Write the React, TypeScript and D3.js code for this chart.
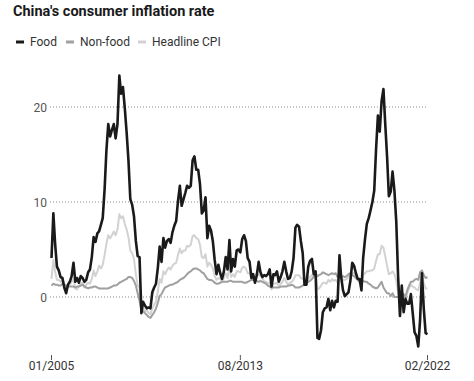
import React from "react";
import * as d3 from "d3";

const startMonth = "2005-01";
const tickLabels = ["01/2005", "08/2013", "02/2022"];
const yTicks = [0, 10, 20];
const seriesNames = ["Food", "Non-food", "Headline CPI"];

const food = [
  4.1, 8.8, 5.7, 3.2, 2.8, 2.1, 2.0, 1.0, 0.4, 1.3, 1.6, 2.2,
  3.6, 1.6, 2.0, 1.5, 2.2, 2.0, 1.6, 1.8, 2.6, 2.9, 4.2, 6.3,
  5.8, 6.7, 6.9, 7.6, 8.3, 11.3, 15.4, 18.2, 16.9, 17.6, 18.2, 16.7,
  18.2, 23.3, 21.4, 22.1, 19.9, 17.3, 14.4, 10.3, 9.7, 8.5, 5.9, 4.3,
  4.2, -1.7, -0.5, -0.9, -1.2, -1.1, -1.2, 0.5, 1.0, 1.4, 3.1, 5.3,
  3.7, 6.2, 5.2, 5.9, 6.1, 5.7, 6.8, 7.5, 8.0, 10.1, 11.7, 9.6,
  10.3, 11.0, 11.7, 11.5, 11.7, 14.4, 14.8, 13.4, 13.4, 11.9, 8.8, 9.1,
  10.5, 6.2, 7.5, 7.0, 5.9, 3.9, 2.4, 3.4, 2.5, 1.9, 2.7, 4.2,
  2.9, 6.0, 2.7, 4.0, 3.2, 4.9, 5.0, 4.7, 6.1, 6.5, 5.9, 4.1,
  3.7, 2.0, 2.4, 1.5, 2.3, 3.7, 2.6, 2.1, 2.3, 2.2, 2.4, 2.9,
  1.1, 2.4, 2.3, 2.7, 1.6, 2.1, 2.7, 3.7, 2.7, 1.9, 2.0, 2.7,
  4.1, 7.3, 7.6, 7.4, 5.9, 4.6, 1.3, 1.3, 3.2, 3.8, 4.0, 2.4,
  2.7, -4.3, -4.4, -3.5, -1.6, -1.2, -1.1, -0.2, -1.4, -0.4, -1.1, -0.4,
  -0.5, 4.4, 2.1, 0.7, 0.1, 0.3, 0.5, 1.7, 3.6, 3.3, 2.5, 1.9,
  1.9, 0.7, 4.1, 6.1, 7.7, 8.3, 9.1, 10.0, 11.2, 15.5, 19.1, 17.4,
  20.6, 21.9, 18.3, 14.8, 10.6, 11.1, 13.2, 11.2, 7.9, 2.2, -2.0, 1.2,
  -1.6, -0.2, -0.7, -0.7, 0.3, -1.7, -3.7, -4.1, -5.2, -2.4, 2.5, -1.2,
  -3.8, -3.9,
];

const nonFood = [
  1.2, 1.4, 1.3, 1.3, 1.2, 1.2, 1.4, 1.3, 1.2, 1.1, 1.1, 1.1,
  1.1, 1.0, 1.1, 1.1, 1.2, 1.3, 1.1, 1.0, 0.9, 1.0, 1.0, 1.1,
  1.1, 1.0, 0.9, 0.9, 0.9, 0.9, 0.9, 0.9, 1.0, 1.1, 1.2, 1.2,
  1.3, 1.5, 1.6, 1.7, 1.8, 1.9, 2.1, 2.1, 2.0, 1.7, 1.2, 0.4,
  -0.4, -1.4, -1.5, -1.7, -1.9, -2.1, -2.2, -1.9, -1.6, -1.2, -0.6, 0.1,
  0.3, 0.7, 1.0, 1.1, 1.2, 1.3, 1.3, 1.4, 1.5, 1.6, 1.8, 1.9,
  2.0, 2.2, 2.4, 2.6, 2.7, 2.9, 3.0, 3.0, 2.9, 2.8, 2.6, 2.5,
  2.2, 1.9, 1.8, 1.8, 1.7, 1.5, 1.4, 1.4, 1.5, 1.6, 1.6, 1.6,
  1.6, 1.7, 1.7, 1.6, 1.6, 1.6, 1.6, 1.6, 1.6, 1.5, 1.5, 1.6,
  1.7, 1.8, 1.8, 1.7, 1.7, 1.6, 1.7, 1.6, 1.5, 1.4, 1.2, 1.1,
  1.0, 1.0, 1.0, 1.0, 1.0, 1.1, 1.1, 1.1, 1.1, 1.2, 1.2, 1.3,
  1.2, 1.0, 1.0, 1.0, 1.1, 1.2, 1.3, 1.4, 1.6, 1.7, 1.9, 2.1,
  2.5, 2.2, 2.3, 2.4, 2.6, 2.5, 2.4, 2.3, 2.4, 2.5, 2.4, 2.5,
  2.1, 2.4, 2.1, 2.2, 2.1, 2.2, 2.4, 2.5, 2.3, 2.2, 2.0, 1.8,
  1.6, 1.6, 1.7, 1.6, 1.6, 1.4, 1.3, 1.1, 1.0, 0.9, 1.0, 1.3,
  1.6, 1.0, 0.7, 0.4, 0.4, 0.1, 0.4, 0.0, 0.0, 0.0, 0.0, 0.0,
  0.3, 0.0, 0.7, 1.2, 1.6, 1.6, 1.8, 1.9, 1.8, 2.6, 2.8, 2.3,
  2.0, 2.1,
];

const headline = [
  1.9, 3.9, 2.7, 1.8, 1.8, 1.6, 1.8, 1.3, 0.9, 1.2, 1.3, 1.6,
  1.9, 0.9, 0.8, 1.2, 1.4, 1.5, 1.0, 1.3, 1.5, 1.4, 1.9, 2.8,
  2.2, 2.7, 3.3, 3.0, 3.4, 4.4, 5.6, 6.5, 6.2, 6.5, 6.9, 6.5,
  7.1, 8.7, 8.3, 8.5, 7.7, 7.1, 6.3, 4.9, 4.6, 4.0, 2.4, 1.2,
  1.0, -1.6, -1.2, -1.5, -1.4, -1.7, -1.8, -1.2, -0.8, -0.5, 0.6, 1.9,
  1.5, 2.7, 2.4, 2.8, 3.1, 2.9, 3.3, 3.5, 3.6, 4.4, 5.1, 4.6,
  4.9, 4.9, 5.4, 5.3, 5.5, 6.4, 6.5, 6.2, 6.1, 5.5, 4.2, 4.1,
  4.5, 3.2, 3.6, 3.4, 3.0, 2.2, 1.8, 2.0, 1.9, 1.7, 2.0, 2.5,
  2.0, 3.2, 2.1, 2.4, 2.1, 2.7, 2.7, 2.6, 3.1, 3.2, 3.0, 2.5,
  2.5, 2.0, 2.4, 1.8, 2.5, 2.3, 2.3, 2.0, 1.6, 1.6, 1.4, 1.5,
  0.8, 1.4, 1.4, 1.5, 1.2, 1.4, 1.6, 2.0, 1.6, 1.3, 1.5, 1.6,
  1.8, 2.3, 2.3, 2.3, 2.0, 1.9, 1.8, 1.3, 1.9, 2.1, 2.3, 2.1,
  2.5, 0.8, 0.9, 1.2, 1.5, 1.5, 1.4, 1.8, 1.6, 1.9, 1.7, 1.8,
  1.5, 2.9, 2.1, 1.8, 1.8, 1.9, 2.1, 2.3, 2.5, 2.5, 2.2, 1.9,
  1.7, 1.5, 2.3, 2.5, 2.7, 2.7, 2.8, 2.8, 3.0, 3.8, 4.5, 4.5,
  5.4, 5.2, 4.3, 3.3, 2.4, 2.5, 2.7, 2.4, 1.7, 0.5, -0.5, 0.2,
  -0.3, -0.2, 0.4, 0.9, 1.3, 1.1, 1.0, 0.8, 0.7, 1.5, 2.3, 1.5,
  0.9, 0.9,
];

const colors = ["#1a1a1a", "#a0a0a0", "#d2d2d2"];
const widths = [2.6, 2, 2];
const FONT = "Roboto, 'Noto Sans', sans-serif";

export default function App() {
  const width = 474;
  const height = 381;
  const parse = d3.timeParse("%Y-%m");
  const parseTick = d3.timeParse("%m/%Y");
  const t0 = parse(startMonth) as Date;
  const dates = food.map((_, i) => d3.timeMonth.offset(t0, i));
  const tickDates = tickLabels.map((s) => parseTick(s) as Date);

  const x = d3
    .scaleTime()
    .domain([tickDates[0], tickDates[tickDates.length - 1]])
    .range([51.5, 427.5]);
  const y = d3.scaleLinear().domain([0, 20]).range([297, 107]);

  const series = [food, nonFood, headline];
  const line = (vals: number[]) =>
    d3
      .line<number>()
      .x((_, i) => x(dates[i]))
      .y((v) => y(v))
      .curve(d3.curveLinear)(vals) as string;

  const drawOrder = [2, 1, 0];
  const legendX = [16, 66, 138];

  return (
    <svg
      width={width}
      height={height}
      style={{ position: "absolute", left: 0, top: 0, background: "#fff" }}
      fontFamily={FONT}
    >
      <text x={13} y={16} fontSize={14.5} fontWeight={700} fill="#1a1a1a">
        China's consumer inflation rate
      </text>
      {seriesNames.map((n, i) => (
        <g key={n}>
          <line
            x1={legendX[i]}
            x2={legendX[i] + 8}
            y1={42}
            y2={42}
            stroke={colors[i]}
            strokeWidth={3}
          />
          <text x={legendX[i] + 14} y={46} fontSize={12} fill="#333">
            {n}
          </text>
        </g>
      ))}
      {yTicks.map((v) => (
        <g key={v}>
          <line
            x1={50}
            x2={428}
            y1={y(v)}
            y2={y(v)}
            stroke="#8a8a8a"
            strokeWidth={1}
            strokeDasharray="1,2"
          />
          <text
            x={47}
            y={y(v) + 4.5}
            fontSize={12}
            textAnchor="end"
            fill="#555"
          >
            {v}
          </text>
        </g>
      ))}
      {drawOrder.map((si) => (
        <path
          key={si}
          d={line(series[si])}
          fill="none"
          stroke={colors[si]}
          strokeWidth={widths[si]}
          strokeLinejoin="round"
        />
      ))}
      {tickDates.map((d, i) => (
        <g key={i} transform={`translate(${x(d)},0)`}>
          <line y1={355} y2={360} stroke="#555" strokeWidth={1} />
          <text y={370} fontSize={12} textAnchor="middle" fill="#333">
            {tickLabels[i]}
          </text>
        </g>
      ))}
    </svg>
  );
}
